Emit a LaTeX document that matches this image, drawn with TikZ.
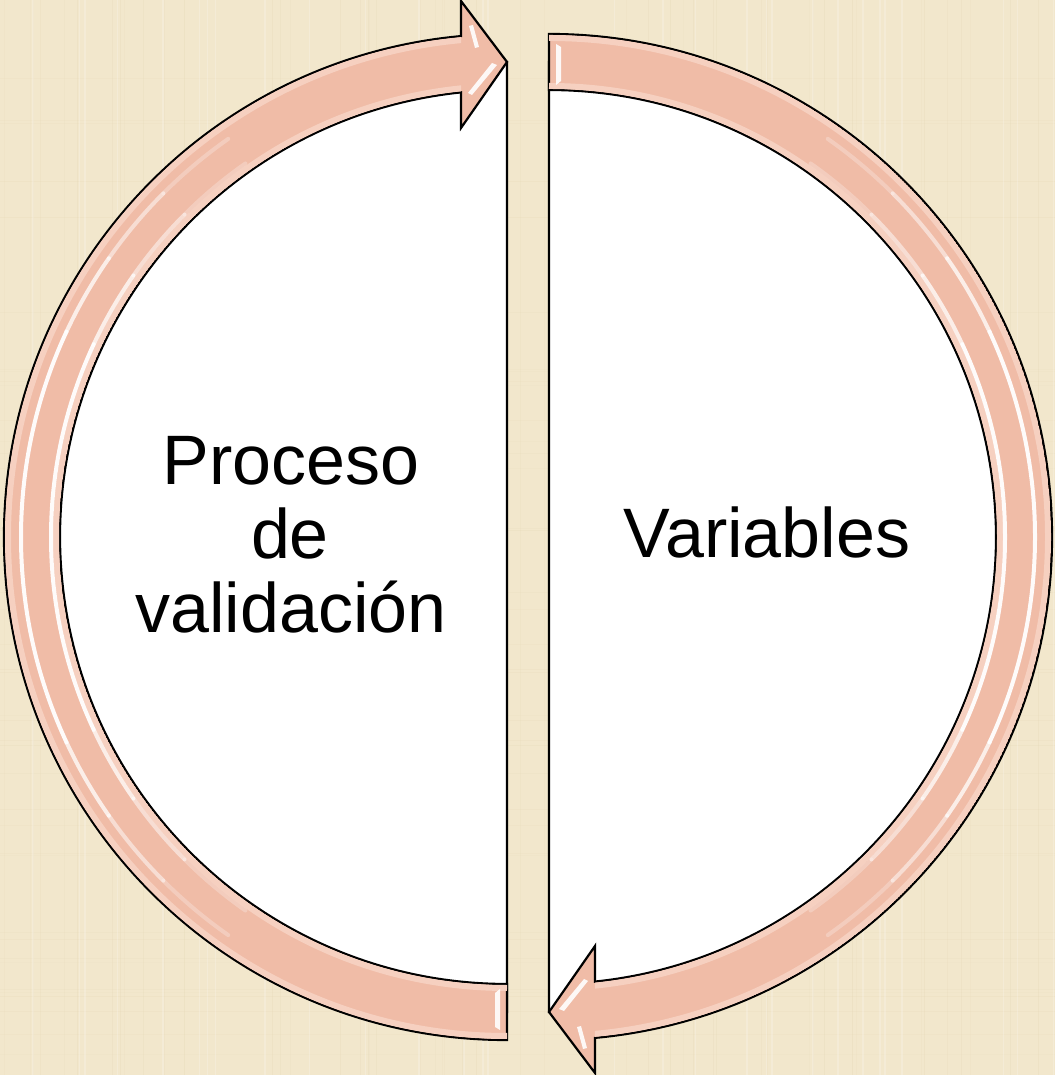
\documentclass[tikz,border=0pt]{standalone}
\usepackage{fontspec}
\setmainfont{Liberation Sans}
\definecolor{bgbeige}{RGB}{242,231,204}
\definecolor{bgdark}{RGB}{228,214,180}
\definecolor{bandpink}{RGB}{240,188,167}
\definecolor{bandlight}{RGB}{246,208,192}
\begin{document}
\begin{tikzpicture}[x=1pt,y=1pt,
  band/.style={fill=bandpink,draw=black,line width=2.2pt,line join=miter},
  half/.style={fill=white,draw=black,line width=2.2pt},
  gloss/.style={white,line width=4pt,line cap=round},
  edgelight/.style={bandlight,line width=6pt},
  lbl/.style={font=\fontsize{70}{74}\selectfont,anchor=base,inner sep=0pt}]
% background
\fill[bgbeige] (0,0) rectangle (1055,1075);
\useasboundingbox (0,0) rectangle (1055,1075);
\pgfmathsetseed{7}
\foreach \i in {1,...,50}{
  \pgfmathsetmacro{\xx}{rnd*1055}
  \pgfmathsetmacro{\op}{0.1+0.2*rnd}
  \draw[bgdark,opacity=\op,line width=1pt] (\xx,0) -- (\xx,1075);
}
\foreach \i in {1,...,40}{
  \pgfmathsetmacro{\yy}{rnd*1075}
  \pgfmathsetmacro{\op}{0.08+0.15*rnd}
  \draw[bgdark,opacity=\op,line width=1pt] (0,\yy) -- (1055,\yy);
}
\foreach \i in {1,...,30}{
  \pgfmathsetmacro{\xx}{rnd*1055}
  \draw[white,opacity=0.2,line width=1.5pt] (\xx,0) -- (\xx,1075);
}
% white half disks
\path[half] (507,1013) -- (507,63) arc[start angle=270,end angle=90,radius=475] -- cycle;
\path[half] (549,63) -- (549,1013) arc[start angle=90,end angle=-90,radius=475] -- cycle;
% bands (left, then right rotated)
\foreach \rot in {0,180}{
  \begin{scope}[rotate around={\rot:(528,538)}]
    \path[band] (507,35) arc[start angle=270,end angle=95.25,radius=503]
      -- (461,1074) -- (507,1013) -- (461,947) -- (461,982.6)
      arc[start angle=95.91,end angle=270,radius=447] -- cycle;
    \begin{scope}
      \clip (507,36) arc[start angle=270,end angle=95.25,radius=502]
        -- (461,983.6) arc[start angle=95.91,end angle=270,radius=448] -- cycle;
      \draw[edgelight] (507,538) ++(270:499) arc[start angle=270,end angle=95,radius=499];
      \draw[edgelight] (507,538) ++(270:451) arc[start angle=270,end angle=95,radius=451];
    \end{scope}
    \foreach \a/\b/\o in {125/135/0.25,135/145/0.5,145/155/0.75,155/205/0.95,205/215/0.75,215/225/0.5,225/235/0.25}{
      \draw[gloss,opacity=\o] (507,538) ++(\a:486) arc[start angle=\a,end angle=\b,radius=486];
      \draw[gloss,opacity=\o] (507,538) ++(\a:456) arc[start angle=\a,end angle=\b,radius=456];
    }
    % specular marks
    \fill[white,opacity=0.9] (495,48) -- (500,45) -- (500,86) -- (495,82) -- cycle;
    \fill[white,opacity=0.9] (469,1049) -- (473,1050) -- (479,1028) -- (475,1027) -- cycle;
    \fill[white,opacity=0.9] (468,982) -- (472,980) -- (497,1010) -- (492,1012) -- cycle;
  \end{scope}
}
% labels
\node[lbl] (p1) at (291,590) {Proceso};
\node[lbl] (p2) at (290,516) {de};
\node[lbl] (p3) at (291,442) {validación};
\node[lbl] (v) at (767,517) {Variables};
\end{tikzpicture}
\end{document}
